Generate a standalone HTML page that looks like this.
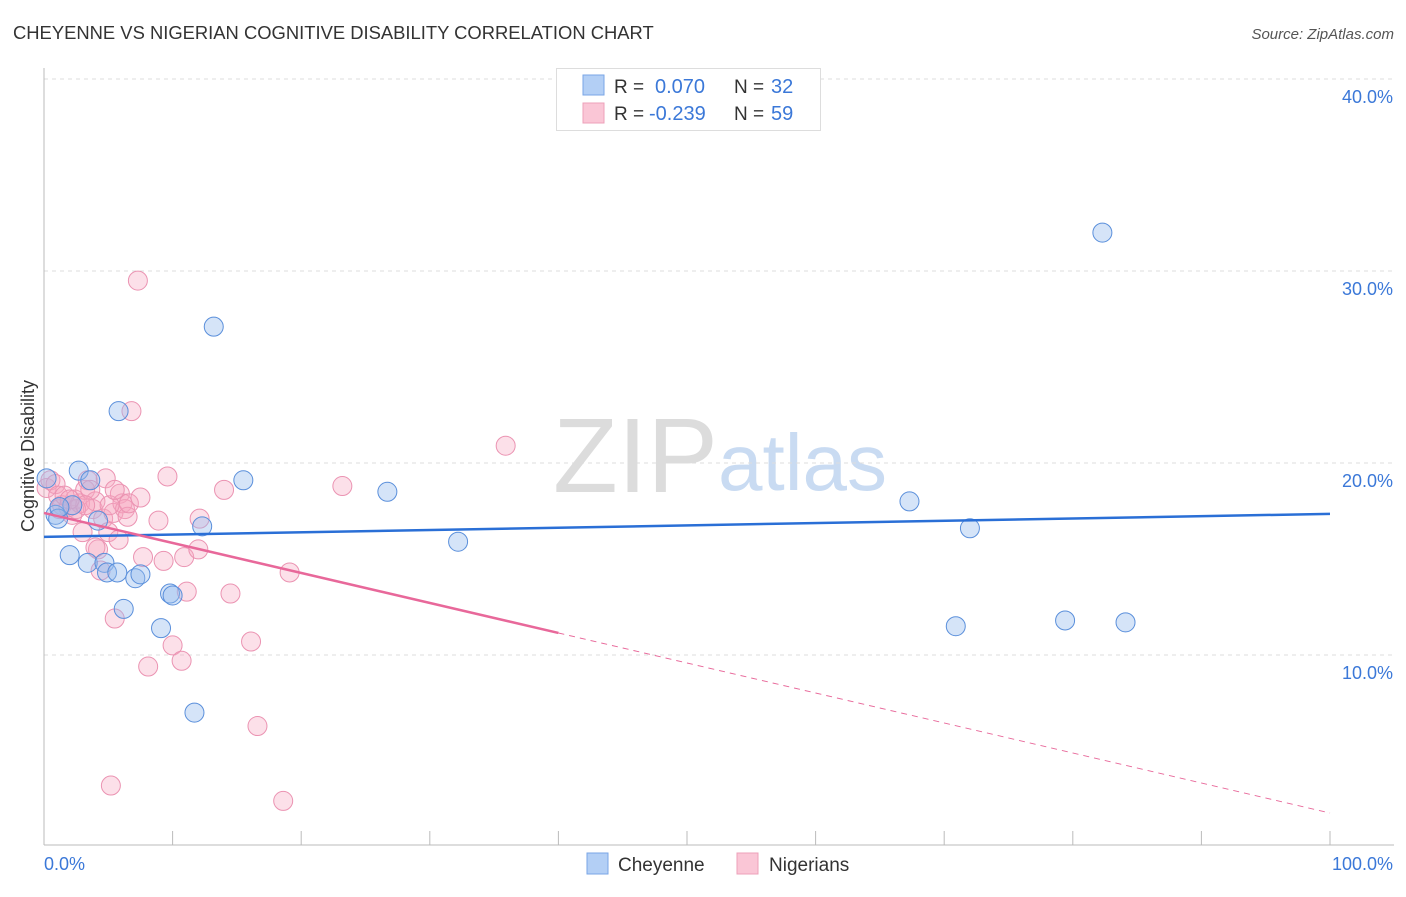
<!DOCTYPE html>
<html><head><meta charset="utf-8"><style>
body{margin:0;background:#fff;font-family:"Liberation Sans",sans-serif;}
svg text{font-family:"Liberation Sans",sans-serif;}
</style></head><body>
<svg id="chart" width="1406" height="892" viewBox="0 0 1406 892">
<text x="13" y="39" font-size="18.4" fill="#333">CHEYENNE VS NIGERIAN COGNITIVE DISABILITY CORRELATION CHART</text>
<text x="1394" y="39" font-size="15" fill="#555" font-style="italic" text-anchor="end">Source: ZipAtlas.com</text>
<g>
<text x="553" y="492" font-size="106" fill="#dcdcdc" font-family="Liberation Serif,serif">ZIP</text>
<text x="718" y="490" font-size="80" fill="#c9dbf2">atlas</text>
</g>
<g id="grid"></g>
<line x1="44" y1="68" x2="44" y2="845" stroke="#bbb"/>
<line x1="44" y1="845" x2="1394" y2="845" stroke="#bbb"/>
<g id="xticks"></g>
<text x="44" y="870" font-size="18" fill="#3b78d8">0.0%</text>
<text x="1393" y="870" font-size="18" fill="#3b78d8" text-anchor="end">100.0%</text>
<text transform="translate(34,456) rotate(-90)" font-size="18" fill="#333" text-anchor="middle">Cognitive Disability</text>
<g id="points"></g>
<g id="trends"></g>
<g>
<rect x="556.5" y="68.5" width="264" height="62" fill="#fff" stroke="#ddd"/>
<rect x="583" y="75" width="21" height="20" fill="#b3cff5" stroke="#7aa6e6"/>
<rect x="583" y="103" width="21" height="20" fill="#fac6d6" stroke="#eda0b9"/>
<text x="614" y="93" font-size="19" fill="#333">R = </text><text x="655" y="93" font-size="20" fill="#3b78d8">0.070</text>
<text x="734" y="93" font-size="19" fill="#333">N = </text><text x="771" y="93" font-size="20" fill="#3b78d8">32</text>
<text x="614" y="120" font-size="19" fill="#333">R = </text><text x="649" y="120" font-size="20" fill="#3b78d8">-0.239</text>
<text x="734" y="120" font-size="19" fill="#333">N = </text><text x="771" y="120" font-size="20" fill="#3b78d8">59</text>
</g>
<g>
<rect x="587" y="853" width="21" height="21" fill="#b3cff5" stroke="#7aa6e6"/>
<text x="618" y="871" font-size="19" fill="#333">Cheyenne</text>
<rect x="737" y="853" width="21" height="21" fill="#fac6d6" stroke="#eda0b9"/>
<text x="769" y="871" font-size="19" fill="#333">Nigerians</text>
</g>
</svg>
<script>
const yTicks=[10,20,30,40];
const yTickLabels=["10.0%","20.0%","30.0%","40.0%"];
const xTicks=[0,10,20,30,40,50,60,70,80,90,100];
const cheyenneX=[0.2,0.9,1.1,2.0,2.7,3.4,3.6,4.2,4.7,4.9,5.7,5.8,6.2,7.1,7.5,9.1,9.8,10.0,11.7,12.3,13.2,15.5,26.7,32.2,67.3,70.9,72.0,79.4,82.3,84.1,2.2,1.2];
const cheyenneY=[19.2,17.3,17.1,15.2,19.6,14.8,19.1,17.0,14.8,14.3,14.3,22.7,12.4,14.0,14.2,11.4,13.2,13.1,7.0,16.7,27.1,19.1,18.5,15.9,18.0,11.5,16.6,11.8,32.0,11.7,17.8,17.7];
const nigeriansX=[0.2,0.5,0.9,1.1,1.2,1.4,1.9,2.2,2.4,2.8,3.0,3.2,3.4,3.8,4.0,4.2,4.4,4.6,4.8,5.0,5.4,5.5,5.8,5.9,6.1,6.3,6.5,6.6,6.8,7.3,7.5,7.7,8.1,8.9,9.3,9.6,10.0,10.7,10.9,11.1,12.0,12.1,14.0,14.5,16.1,16.6,18.6,19.1,23.2,35.9,5.2,4.0,5.1,3.6,1.6,2.5,5.5,3.2,2.0];
const nigeriansY=[18.7,19.1,18.9,18.3,17.6,17.8,17.7,17.3,18.1,17.9,16.4,18.6,19.1,17.6,18.0,15.5,14.4,17.1,19.2,16.4,17.4,11.9,16.0,18.4,17.9,17.6,17.2,17.9,22.7,29.5,18.2,15.1,9.4,17.0,14.9,19.3,10.5,9.7,15.1,13.3,15.5,17.1,18.6,13.2,10.7,6.3,2.4,14.3,18.8,20.9,3.2,15.6,17.8,18.6,18.3,17.6,18.6,17.8,18.1];
const cheyenneTrend=[16.15,17.35];
const nigeriansTrend=[17.4,1.77];
const NS="http://www.w3.org/2000/svg";
const sx=v=>44+v*12.86, sy=v=>847-v*19.2;
function mk(tag,attrs,parent){const e=document.createElementNS(NS,tag);for(const k in attrs)e.setAttribute(k,attrs[k]);parent.appendChild(e);return e;}
const grid=document.getElementById('grid');
yTicks.forEach((t,i)=>{
 const l=mk('line',{x1:44,x2:1394,y1:sy(t),y2:sy(t),stroke:'#ddd','stroke-dasharray':'4,4'},grid);
 
 
 const tx=mk('text',{x:1393,y:sy(t)+24,'font-size':18,fill:'#3b78d8','text-anchor':'end'},grid);
 tx.textContent=yTickLabels[i];
 
 
});
const xt=document.getElementById('xticks');
xTicks.forEach(t=>{
 const l=mk('line',{x1:sx(t),x2:sx(t),y1:831,y2:845,stroke:'#bbb'},xt);
 
 
});
const pts=document.getElementById('points');
nigeriansX.forEach((x,i)=>{
 const c=mk('circle',{cx:sx(x),cy:sy(nigeriansY[i]),r:9.5,fill:'rgba(245,165,192,0.35)',stroke:'#eb93b2','stroke-width':1},pts);
 
 
});
cheyenneX.forEach((x,i)=>{
 const c=mk('circle',{cx:sx(x),cy:sy(cheyenneY[i]),r:9.5,fill:'rgba(150,188,238,0.4)',stroke:'#5a8fdb','stroke-width':1},pts);
 
 
});
const tr=document.getElementById('trends');
const bl=mk('line',{x1:sx(0),y1:sy(cheyenneTrend[0]),x2:sx(100),y2:sy(cheyenneTrend[1]),stroke:'#2a6fd6','stroke-width':2.5},tr);


const pAt=x=>nigeriansTrend[0]+(nigeriansTrend[1]-nigeriansTrend[0])*x/100;
const ps=mk('line',{x1:sx(0),y1:sy(pAt(0)),x2:sx(40),y2:sy(pAt(40)),stroke:'#e8689a','stroke-width':2.5},tr);


const pd=mk('line',{x1:sx(40),y1:sy(pAt(40)),x2:sx(100),y2:sy(pAt(100)),stroke:'#e8689a','stroke-width':1,'stroke-dasharray':'6,5'},tr);


</script>
</body></html>
